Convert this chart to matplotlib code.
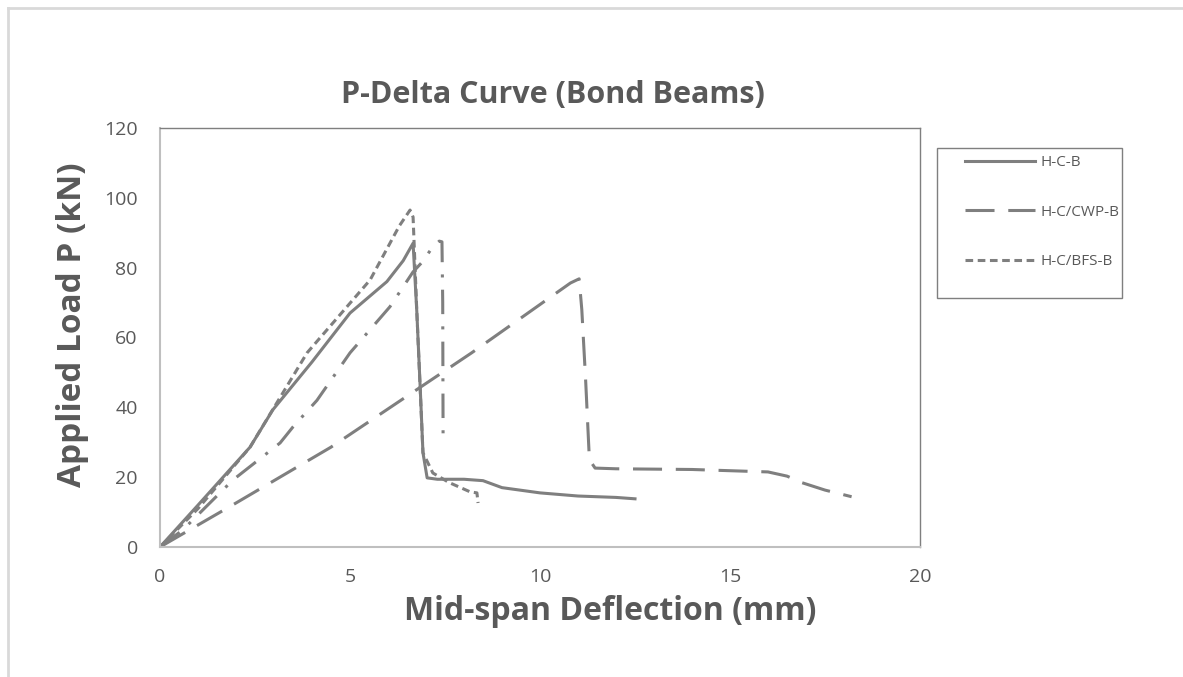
import matplotlib.pyplot as plt
from matplotlib.lines import Line2D
from matplotlib.patches import Rectangle

# H-C-B (solid)
hcb_x = [0, 1.0, 2.37, 2.97, 4.0, 5.0, 5.97, 6.4, 6.66, 6.76, 6.85, 6.92, 7.03, 7.3, 8.0, 8.5, 9.0, 10.0, 11.0, 12.0, 12.5]
hcb_y = [0, 12.0, 28.6, 39.3, 53.0, 67.0, 76.0, 82.0, 87.0, 67.0, 45.0, 27.0, 19.8, 19.4, 19.4, 19.0, 17.0, 15.5, 14.6, 14.2, 13.8]

# H-C/CWP-B (long dash)
cwp_x = [0, 2.0, 4.5, 8.2, 10.8, 11.03, 11.1, 11.2, 11.3, 11.45, 12.0, 14.0, 16.0, 16.5, 16.9, 17.5, 18.2]
cwp_y = [0, 12.6, 28.6, 55.6, 75.6, 76.8, 68.0, 48.0, 25.0, 22.6, 22.4, 22.2, 21.5, 20.3, 18.4, 16.3, 14.4]

# H-C/BFS-B (short dash)
bfs_x = [0, 1.0, 2.37, 3.87, 5.53, 6.3, 6.58, 6.66, 6.76, 6.92, 7.18, 7.6, 8.16, 8.34, 8.37]
bfs_y = [0, 11.0, 28.6, 55.6, 76.5, 92.0, 96.5, 94.5, 67.0, 27.0, 21.2, 18.5, 15.8, 15.5, 12.6]

# unlabeled dash-dot series
dd_x = [0, 0.6, 1.92, 3.16, 3.5, 4.13, 5.0, 6.05, 6.66, 6.9, 7.18, 7.35, 7.42, 7.44, 7.45]
dd_y = [0, 4.9, 19.2, 29.8, 34.4, 42.0, 55.6, 68.8, 78.8, 81.6, 86.0, 87.6, 87.4, 70.0, 29.8]

grey = '#7f7f7f'
text_grey = '#595959'
plt.rcParams['font.family'] = ['Open Sans', 'DejaVu Sans']

W, H = 1183, 677
fig = plt.figure(figsize=(W / 100, H / 100), dpi=100)
ax = fig.add_axes([160 / W, 130 / H, 760 / W, 419 / H])

ax.plot(hcb_x, hcb_y, color=grey, lw=2.2, ls='-', label='H-C-B')
ax.plot(cwp_x, cwp_y, color=grey, lw=2.2, ls=(0, (9.5, 4.5)), label='H-C/CWP-B')
ax.plot(bfs_x, bfs_y, color=grey, lw=2.2, ls=(0, (2.5, 1.5)), label='H-C/BFS-B')
ax.plot(dd_x, dd_y, color=grey, lw=2.2, ls=(0, (8, 4, 1, 4)))

ax.set_xlim(0, 20)
ax.set_ylim(0, 120)
ax.set_xticks([0, 5, 10, 15, 20])
ax.set_yticks(range(0, 121, 20))
ax.tick_params(length=0, labelsize=14, colors=text_grey)
ax.tick_params(axis='x', pad=15)
ax.tick_params(axis='y', pad=16)

for side in ['top', 'right']:
    ax.spines[side].set_color(grey)
    ax.spines[side].set_linewidth(1.0)
for side in ['left', 'bottom']:
    ax.spines[side].set_color('#bfbfbf')
    ax.spines[side].set_linewidth(1.5)

# titles placed in figure pixels
fig.text(553 / W, 1 - 95 / H, 'P-Delta Curve (Bond Beams)', fontsize=22, fontweight='bold',
         color=text_grey, ha='center', va='center')
fig.text(610 / W, 1 - 612 / H, 'Mid-span Deflection (mm)', fontsize=23, fontweight='bold',
         color=text_grey, ha='center', va='center')
fig.text(73 / W, 1 - 325 / H, 'Applied Load P (kN)', fontsize=24, fontweight='bold',
         color=text_grey, ha='center', va='center', rotation=90)

leg = ax.legend(loc='upper left', bbox_to_anchor=(965 / W, 1 - 155 / H), bbox_transform=fig.transFigure,
                fontsize=11, frameon=False, handlelength=4.6, labelspacing=2.27,
                borderpad=0, handletextpad=0.33, borderaxespad=0)
for t in leg.get_texts():
    t.set_color(text_grey)
fig.add_artist(Rectangle((937 / W, 1 - 298 / H), 185 / W, 150 / H, transform=fig.transFigure,
                         fill=False, edgecolor=grey, lw=1.0))

# outer chart border (cut off at right and bottom)
fig.add_artist(Line2D([8 / W, 1], [1 - 8 / H, 1 - 8 / H], transform=fig.transFigure, color='#d9d9d9', lw=2))
fig.add_artist(Line2D([8 / W, 8 / W], [0, 1 - 8 / H], transform=fig.transFigure, color='#d9d9d9', lw=2))

fig.savefig('out.png', dpi=100)
